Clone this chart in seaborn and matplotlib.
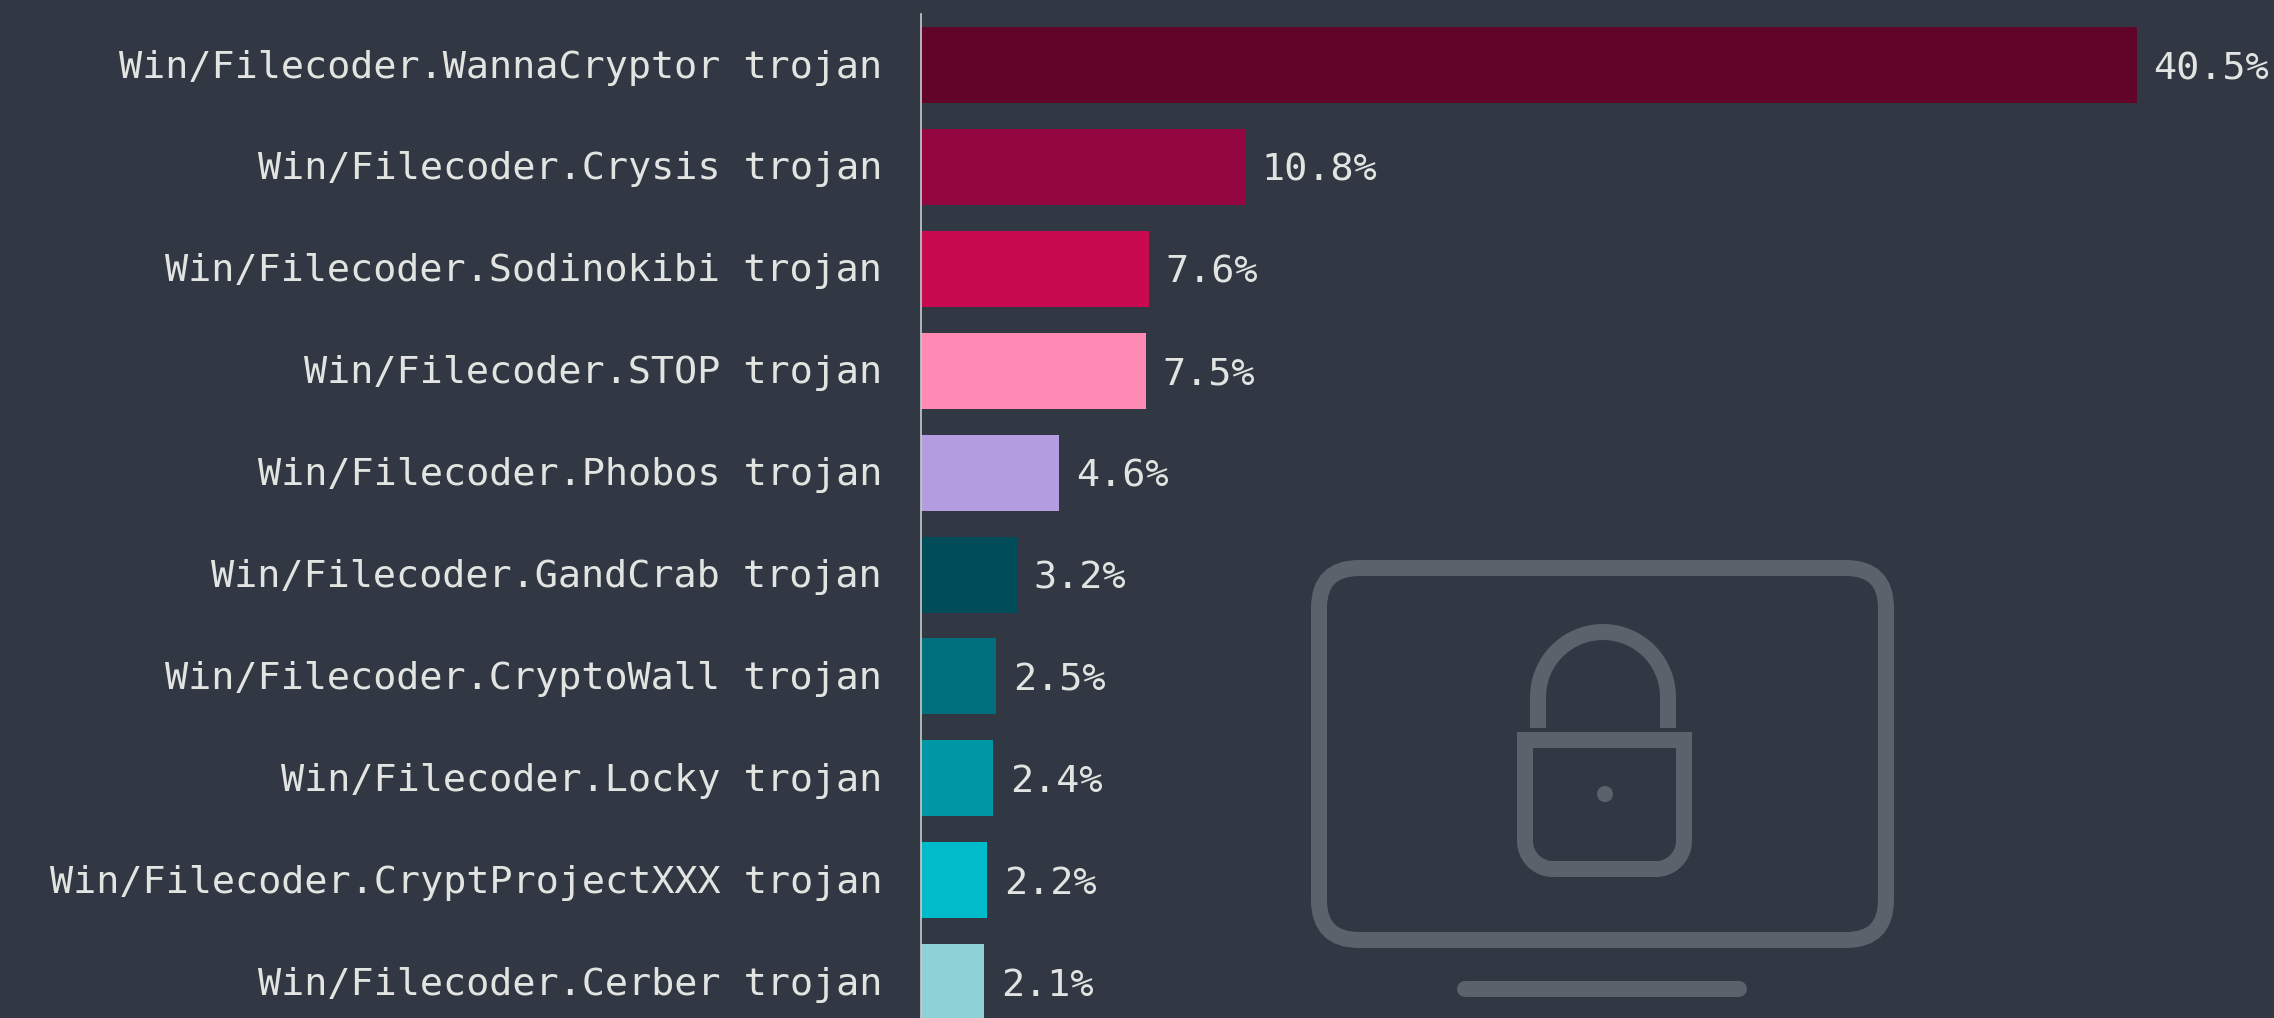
import numpy as np
import pandas as pd
import matplotlib
matplotlib.use('Agg')
import matplotlib.pyplot as plt
import matplotlib.transforms as mtrans
import seaborn as sns
from matplotlib.patches import FancyBboxPatch, PathPatch, Circle
from matplotlib.path import Path

names = ['Win/Filecoder.WannaCryptor trojan', 'Win/Filecoder.Crysis trojan',
         'Win/Filecoder.Sodinokibi trojan', 'Win/Filecoder.STOP trojan',
         'Win/Filecoder.Phobos trojan', 'Win/Filecoder.GandCrab trojan',
         'Win/Filecoder.CryptoWall trojan', 'Win/Filecoder.Locky trojan',
         'Win/Filecoder.CryptProjectXXX trojan', 'Win/Filecoder.Cerber trojan']
shares = [40.5, 10.8, 7.6, 7.5, 4.6, 3.2, 2.5, 2.4, 2.2, 2.1]
colors = ['#62042a', '#93063f', '#c80a51', '#ff8ab3', '#b39de0',
          '#004c59', '#00707f', '#0097a7', '#00bcca', '#8ed2d5']

BG = '#313843'
TEXT = '#e2e4e2'
ICON = '#5a626c'
W, H = 2274, 1018

sns.set_theme(style='white')
plt.rcParams['font.family'] = ['DejaVu Sans Mono']

df = pd.DataFrame({'name': names, 'share': shares})

fig = plt.figure(figsize=(W / 100, H / 100), dpi=100, facecolor=BG)
# axes start at the baseline of the bars and run to the edges of the picture
ax = fig.add_axes([921 / W, 0, 1 - 921 / W, 1], facecolor=BG)
sns.barplot(data=df, y='name', x='share', hue='name', palette=colors, order=names,
            hue_order=names, saturation=1, width=0.746, legend=False, linewidth=0, ax=ax)

for c in ax.containers:
    for lab in ax.bar_label(c, fmt='%.1f%%', padding=12, color=TEXT, fontsize=27.7):
        lab.set_va('center_baseline')

ax.set_xlim(0, (W - 921) / 30.02)
ax.set_ylim(9.352, -0.638)
ax.set_xlabel('')
ax.set_ylabel('')
ax.set_xticks([])
ax.tick_params(axis='y', length=0, pad=28, labelsize=27.7, labelcolor=TEXT)
# nudge names up a touch
nudge = mtrans.ScaledTranslation(0, 1.5 / 100, fig.dpi_scale_trans)
for t in ax.get_yticklabels():
    t.set_va('center_baseline')
    t.set_transform(t.get_transform() + nudge)
sns.despine(ax=ax, left=False, top=True, right=True, bottom=True)
ax.spines['left'].set_color('#c9cccb')
ax.spines['left'].set_linewidth(1.2)
ax.spines['left'].set_bounds(-0.5, 9.352)
ax.spines['left'].set_zorder(5)

# locked screen icon behind the chart, in picture pixels
icon = fig.add_axes([0, 0, 1, 1], zorder=-1)
icon.set_xlim(0, W)
icon.set_ylim(H, 0)
icon.axis('off')
ax.patch.set_alpha(0)
lw = 16 * 0.72

icon.add_patch(FancyBboxPatch((1319, 568), 567, 372, boxstyle='round,pad=0,rounding_size=40',
                              fill=False, ec=ICON, lw=lw))
icon.plot([1465, 1739], [989, 989], color=ICON, lw=lw, solid_capstyle='round')


def arc(cx, cy, r, a0, a1):
    t = np.radians(np.linspace(a0, a1, 40))
    return np.column_stack([cx + r * np.cos(t), cy + r * np.sin(t)])


# shackle
shackle = np.vstack([[[1538, 728]], arc(1603, 697, 65, 180, 360), [[1668, 728]]])
icon.add_patch(PathPatch(Path(shackle), fill=False, ec=ICON, lw=lw, capstyle='butt', joinstyle='round'))

# lock body, square on top and round below
body = np.vstack([[[1525, 740]], arc(1553, 841, 28, 180, 90), arc(1656, 841, 28, 90, 0), [[1684, 740]], [[1525, 740]]])
body_codes = [Path.MOVETO] + [Path.LINETO] * (len(body) - 2) + [Path.CLOSEPOLY]
icon.add_patch(PathPatch(Path(body, body_codes), fill=False, ec=ICON, lw=lw, joinstyle='miter'))
icon.add_patch(Circle((1605, 794), 8, fc=ICON, ec='none'))

plt.savefig('out.png', dpi=100, facecolor=BG)
